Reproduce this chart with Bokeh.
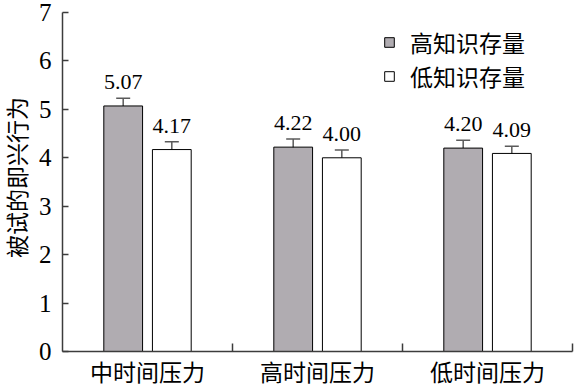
import math
from bokeh.plotting import figure
from bokeh.models import (ColumnDataSource, Whisker, TeeHead, FixedTicker, Legend, LegendItem,
                          Range1d, Label)
from bokeh.core.properties import value
from bokeh.embed import file_html
from bokeh.resources import INLINE

# ---- data ----
categories = ["中时间压力", "高时间压力", "低时间压力"]
high_vals = [5.07, 4.22, 4.20]
low_vals = [4.17, 4.00, 4.09]
high_err = [0.16, 0.17, 0.16]
low_err = [0.16, 0.16, 0.15]
high_labels = ["5.07", "4.22", "4.20"]
low_labels = ["4.17", "4.00", "4.09"]
y_ticks = [0, 1, 2, 3, 4, 5, 6, 7]
series_names = ["高知识存量", "低知识存量"]
y_title = "被试的即兴行为"

# ---- style / layout (pixels) ----
W, H = 583, 387
AX_LEFT, AX_RIGHT, AX_TOP, AX_BOTTOM = 62, 572, 12, 351
N_CAT = len(categories)
Y_MAX = 7

CJK = "Noto Sans CJK SC"
SERIF = "Liberation Serif"
GRAY = "#b0acb1"
AXIS = "#3c3c3c"
ERR = "#5a5a5a"
BAR_W = 0.228
OFF = 0.143
LABEL_PAD = 0.33

px_x = (AX_RIGHT - AX_LEFT) / N_CAT
px_y = (AX_BOTTOM - AX_TOP) / Y_MAX
x_start = -AX_LEFT / px_x
x_end = N_CAT + (W - AX_RIGHT) / px_x
y_start = -(H - AX_BOTTOM) / px_y
y_end = Y_MAX + AX_TOP / px_y

CAT_LABEL_Y = -19 / px_y
TITLE_X = (15 - AX_LEFT) / px_x
TITLE_Y = (AX_BOTTOM - 177) / px_y

centers = [i + 0.5 for i in range(N_CAT)]
xh = [c - OFF for c in centers]
xl = [c + OFF for c in centers]


def make_src(xs, vals, errs, labels):
    return ColumnDataSource(dict(
        x=xs, top=vals,
        up=[v + e for v, e in zip(vals, errs)],
        lo=[v - e for v, e in zip(vals, errs)],
        ly=[v + e + LABEL_PAD for v, e in zip(vals, errs)],
        txt=labels))


src_h = make_src(xh, high_vals, high_err, high_labels)
src_l = make_src(xl, low_vals, low_err, low_labels)

p = figure(width=W, height=H, output_backend="svg", toolbar_location=None,
           x_range=Range1d(x_start, x_end), y_range=Range1d(y_start, y_end),
           min_border=0, min_border_left=0, min_border_right=0,
           min_border_top=0, min_border_bottom=0)
p.outline_line_color = None
p.xgrid.visible = False
p.ygrid.visible = False
p.background_fill_color = "white"
p.border_fill_color = "white"

rh = p.vbar(x="x", top="top", width=BAR_W, bottom=0, source=src_h,
            fill_color=GRAY, line_color="black", line_width=1)
rl = p.vbar(x="x", top="top", width=BAR_W, bottom=0, source=src_l,
            fill_color="white", line_color="black", line_width=1)

for src in (src_h, src_l):
    w = Whisker(source=src, base="x", upper="up", lower="lo",
                line_color=ERR, line_width=1.5,
                upper_head=TeeHead(size=14, line_color=ERR, line_width=1.5),
                lower_head=TeeHead(size=14, line_color=ERR, line_width=1.5))
    p.add_layout(w)
    p.text(x="x", y="ly", text="txt", source=src, text_align="center",
           text_baseline="alphabetic", text_font=value(SERIF),
           text_font_size="22px", text_color="black")

# y axis (drawn at x = 0 inside the canvas)
p.yaxis.fixed_location = 0
p.yaxis.bounds = (0, Y_MAX)
p.yaxis.ticker = FixedTicker(ticks=y_ticks)
p.yaxis.axis_line_color = AXIS
p.yaxis.axis_line_width = 1.5
p.yaxis.major_tick_in = 6
p.yaxis.major_tick_out = 0
p.yaxis.major_tick_line_color = AXIS
p.yaxis.major_tick_line_width = 1.5
p.yaxis.minor_tick_line_color = None
p.yaxis.major_label_text_font = SERIF
p.yaxis.major_label_text_font_size = "25px"
p.yaxis.major_label_text_color = "black"
p.yaxis.major_label_standoff = 11

# x axis (drawn at y = 0): only boundary ticks
p.xaxis.fixed_location = 0
p.xaxis.bounds = (0, N_CAT)
p.xaxis.ticker = FixedTicker(ticks=[], minor_ticks=[1, 2, 3])
p.xaxis.axis_line_color = AXIS
p.xaxis.axis_line_width = 1.5
p.xaxis.major_tick_line_color = None
p.xaxis.minor_tick_line_color = AXIS
p.xaxis.minor_tick_line_width = 1.5
p.xaxis.minor_tick_in = 8
p.xaxis.minor_tick_out = 0

for c, name in zip(centers, categories):
    p.add_layout(Label(x=c, y=CAT_LABEL_Y, text=name, text_align="center",
                       text_baseline="middle", text_font=CJK, text_font_size="23px",
                       text_color="black"))

p.add_layout(Label(x=TITLE_X, y=TITLE_Y, text=y_title, angle=math.pi / 2,
                   text_align="center", text_baseline="middle", text_font=CJK,
                   text_font_size="23px", text_color="black"))

legend = Legend(items=[LegendItem(label=series_names[0], renderers=[rh]),
                       LegendItem(label=series_names[1], renderers=[rl])],
                location=(383, 294), orientation="vertical",
                glyph_width=12, glyph_height=12, label_standoff=15,
                label_height=30, spacing=-4, padding=0, margin=0,
                label_text_font=CJK, label_text_font_size="23px",
                label_text_color="black",
                background_fill_alpha=0, border_line_color=None)
p.add_layout(legend)

open("out.html", "w").write(file_html(p, INLINE))
